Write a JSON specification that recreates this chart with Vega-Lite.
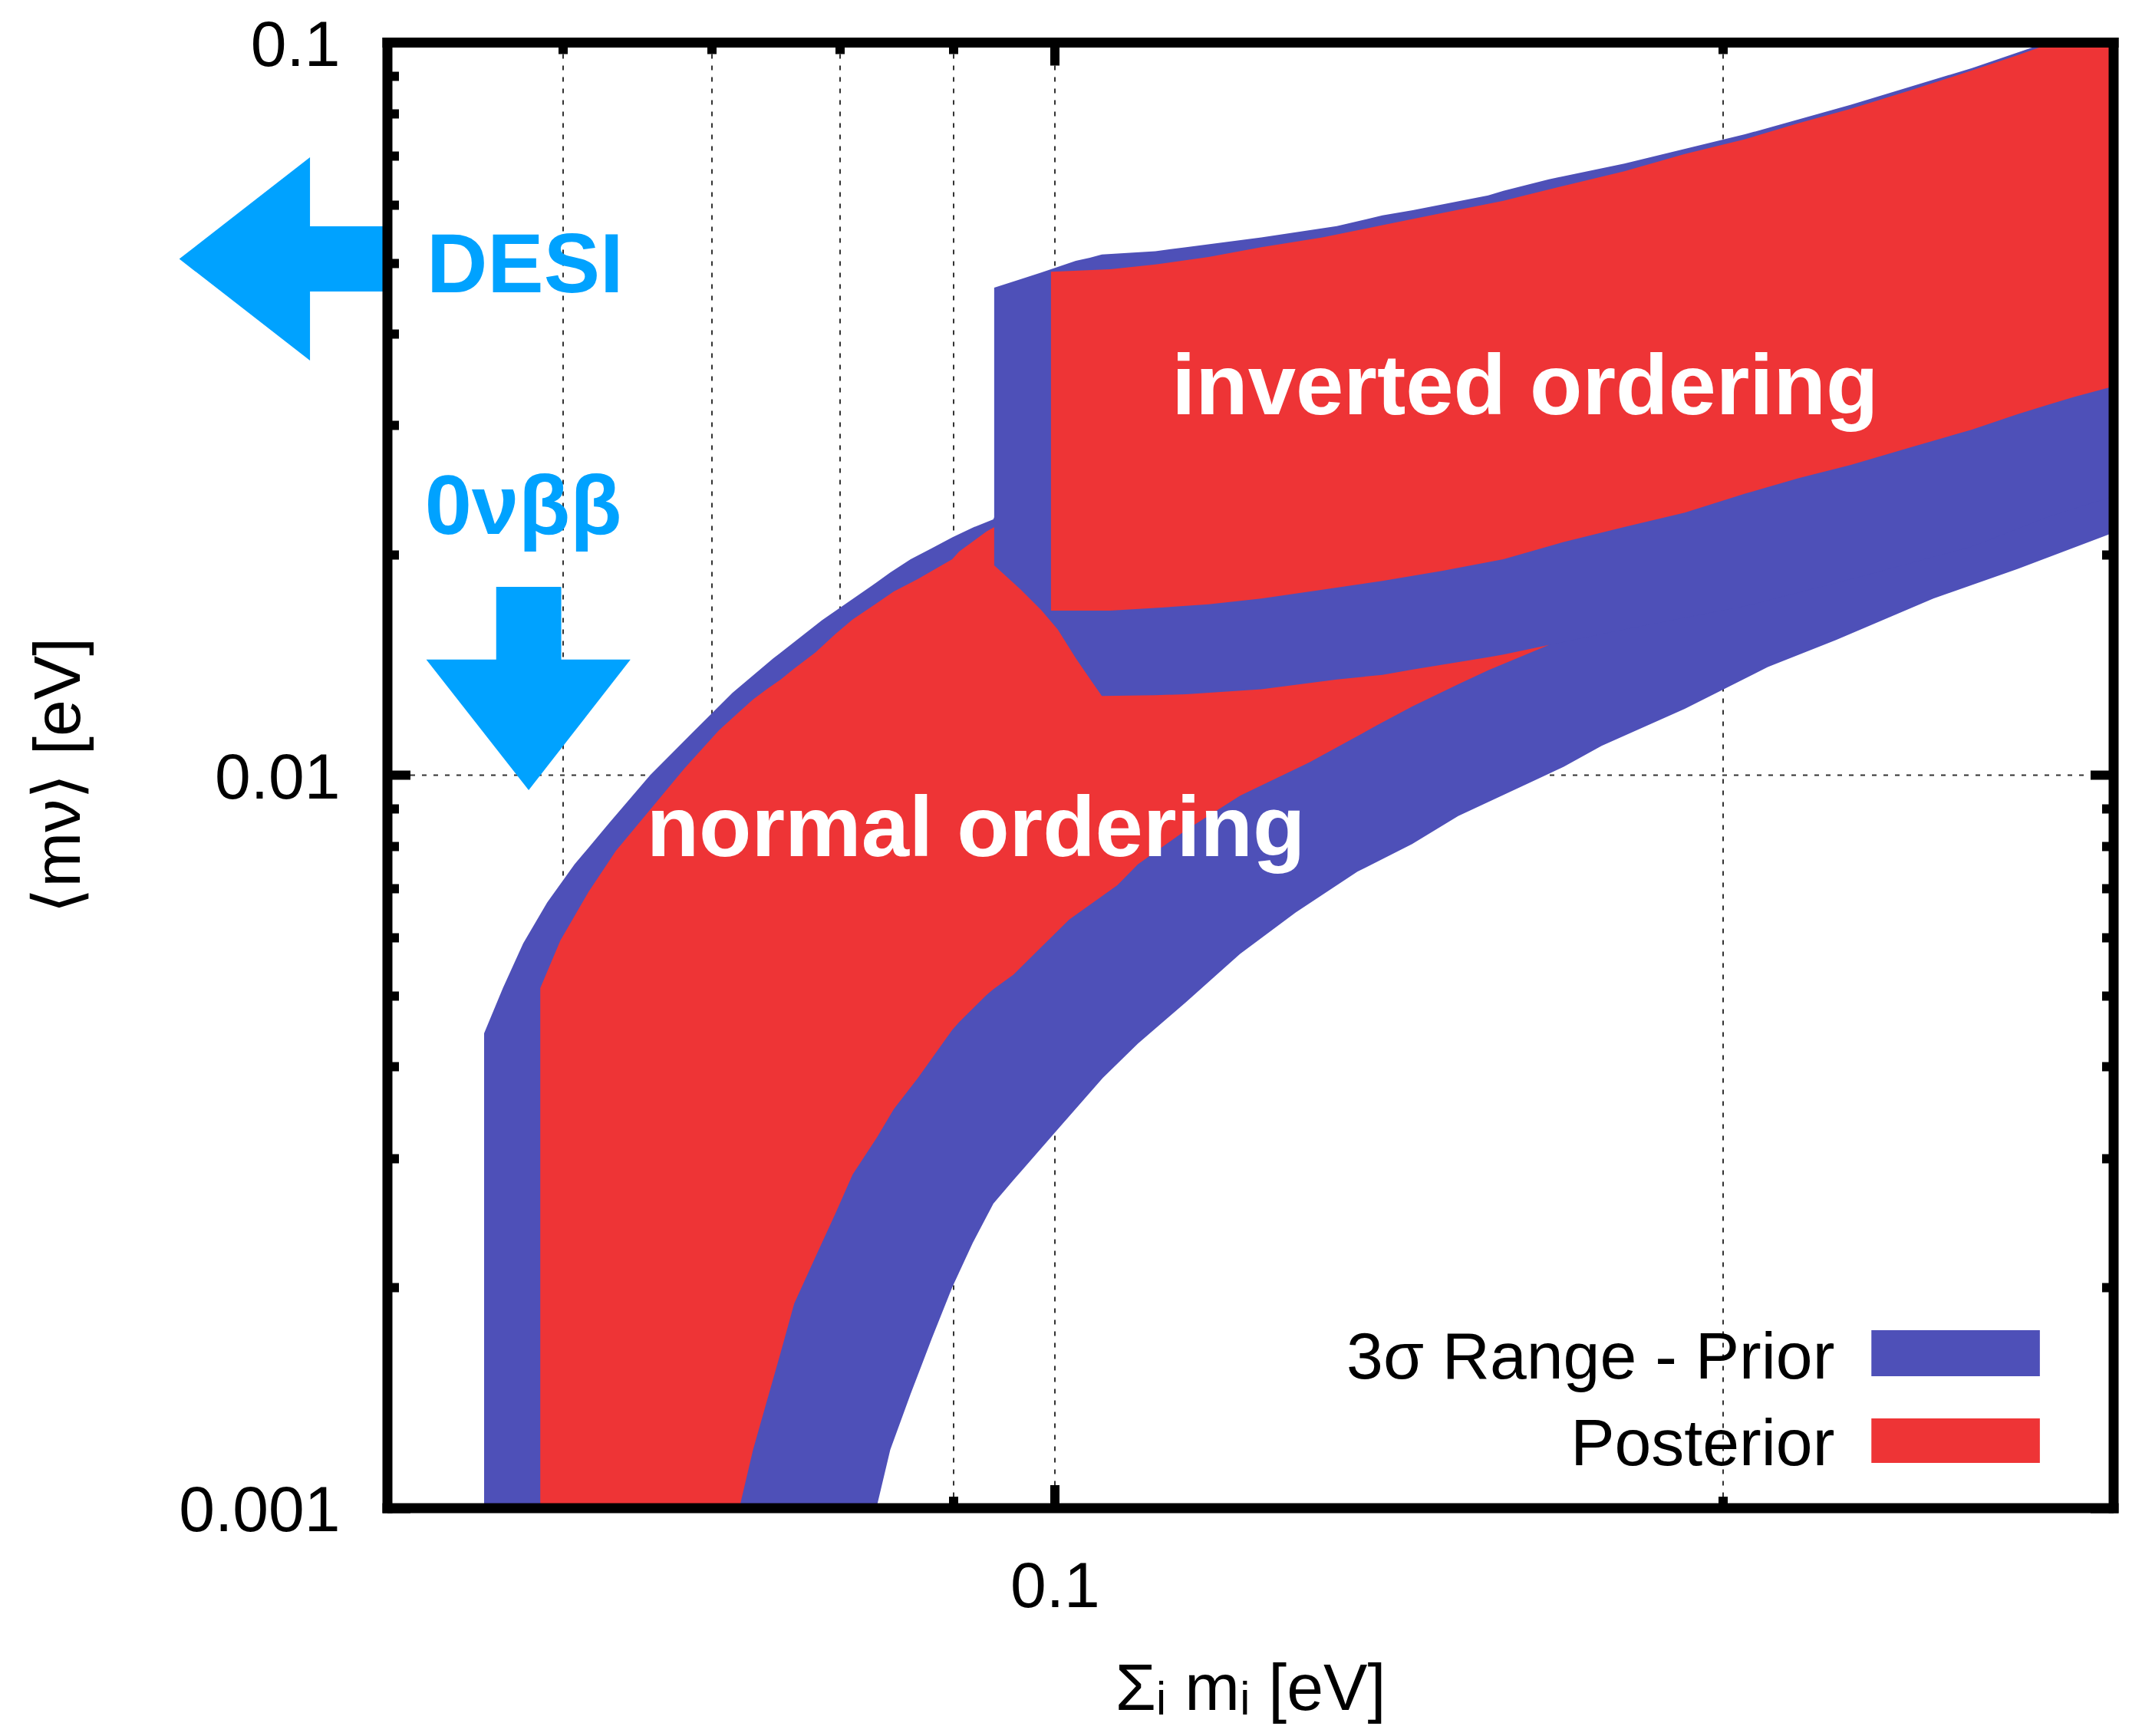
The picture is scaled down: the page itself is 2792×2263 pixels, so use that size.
{
  "$schema": "https://vega.github.io/schema/vega-lite/v6.json",
  "width": 2250,
  "height": 1910.5,
  "autosize": {"type": "none"},
  "padding": {"left": 504.5, "top": 55, "right": 38, "bottom": 297},
  "background": "white",
  "config": {
    "view": {"stroke": null},
    "axis": {
      "labelFont": "Liberation Sans Narrow, Liberation Sans, Arial",
      "titleFont": "Liberation Sans Narrow, Liberation Sans, Arial",
      "labelColor": "black",
      "titleColor": "black",
      "tickColor": "black",
      "domainColor": "black",
      "labelFontSize": 84,
      "titleFontSize": 86,
      "titleFontWeight": "normal",
      "tickCap": "butt",
      "gridColor": "#333333",
      "gridDash": [6, 9],
      "gridWidth": 2,
      "gridOpacity": 1,
      "labelFlush": false,
      "labelOverlap": false,
      "labelBound": false,
      "labelLimit": 1000,
      "titleLimit": 2000
    }
  },
  "datasets": {
    "noPrior": [
      {"x": 0.0553, "lo": 0.001, "hi": 0.00444},
      {"x": 0.05639, "lo": 0.001, "hi": 0.00512},
      {"x": 0.05759, "lo": 0.001, "hi": 0.00589},
      {"x": 0.05904, "lo": 0.001, "hi": 0.0067},
      {"x": 0.06074, "lo": 0.001, "hi": 0.00755},
      {"x": 0.06295, "lo": 0.001, "hi": 0.00859},
      {"x": 0.06571, "lo": 0.001, "hi": 0.01},
      {"x": 0.06857, "lo": 0.001, "hi": 0.01138},
      {"x": 0.07157, "lo": 0.001, "hi": 0.01295},
      {"x": 0.07467, "lo": 0.001, "hi": 0.01443},
      {"x": 0.07853, "lo": 0.001, "hi": 0.01626},
      {"x": 0.0831, "lo": 0.001, "hi": 0.01831},
      {"x": 0.0843, "lo": 0.0012, "hi": 0.0189},
      {"x": 0.0861, "lo": 0.00143, "hi": 0.0197},
      {"x": 0.088, "lo": 0.0017, "hi": 0.02039},
      {"x": 0.0899, "lo": 0.002, "hi": 0.0211},
      {"x": 0.09184, "lo": 0.0023, "hi": 0.02176},
      {"x": 0.09382, "lo": 0.0026, "hi": 0.02233},
      {"x": 0.0958, "lo": 0.0028, "hi": 0.026},
      {"x": 0.1, "lo": 0.00325, "hi": 0.03},
      {"x": 0.1051, "lo": 0.00386, "hi": 0.035},
      {"x": 0.109, "lo": 0.0043, "hi": 0.038},
      {"x": 0.1146, "lo": 0.0049, "hi": 0.042},
      {"x": 0.1212, "lo": 0.0057, "hi": 0.045},
      {"x": 0.1284, "lo": 0.00649, "hi": 0.048},
      {"x": 0.1369, "lo": 0.00738, "hi": 0.05},
      {"x": 0.1449, "lo": 0.00805, "hi": 0.053},
      {"x": 0.152, "lo": 0.00879, "hi": 0.055},
      {"x": 0.1696, "lo": 0.01026, "hi": 0.06},
      {"x": 0.1764, "lo": 0.01096, "hi": 0.062},
      {"x": 0.1923, "lo": 0.01231, "hi": 0.065},
      {"x": 0.2096, "lo": 0.01404, "hi": 0.07},
      {"x": 0.225, "lo": 0.01528, "hi": 0.075},
      {"x": 0.2489, "lo": 0.01741, "hi": 0.082},
      {"x": 0.2716, "lo": 0.0191, "hi": 0.088},
      {"x": 0.3, "lo": 0.0214, "hi": 0.095}
    ],
    "noPost": [
      {"x": 0.05862, "lo": 0.001, "hi": 0.00512},
      {"x": 0.05986, "lo": 0.001, "hi": 0.00595},
      {"x": 0.06162, "lo": 0.001, "hi": 0.00692},
      {"x": 0.06341, "lo": 0.001, "hi": 0.00788},
      {"x": 0.06571, "lo": 0.001, "hi": 0.00897},
      {"x": 0.06808, "lo": 0.001, "hi": 0.01021},
      {"x": 0.07055, "lo": 0.001, "hi": 0.0115},
      {"x": 0.07208, "lo": 0.001, "hi": 0.0122},
      {"x": 0.07311, "lo": 0.0012, "hi": 0.01268},
      {"x": 0.07417, "lo": 0.0014, "hi": 0.0131},
      {"x": 0.07524, "lo": 0.00163, "hi": 0.0135},
      {"x": 0.0763, "lo": 0.0019, "hi": 0.01397},
      {"x": 0.078, "lo": 0.0022, "hi": 0.0147},
      {"x": 0.07963, "lo": 0.00252, "hi": 0.01557},
      {"x": 0.08107, "lo": 0.00285, "hi": 0.0163},
      {"x": 0.08313, "lo": 0.0032, "hi": 0.01716},
      {"x": 0.08461, "lo": 0.0035, "hi": 0.0178},
      {"x": 0.08675, "lo": 0.00386, "hi": 0.01851},
      {"x": 0.0899, "lo": 0.00449, "hi": 0.0197},
      {"x": 0.09054, "lo": 0.0046, "hi": 0.02018},
      {"x": 0.09316, "lo": 0.00501, "hi": 0.0215},
      {"x": 0.09382, "lo": 0.0051, "hi": 0.02176},
      {"x": 0.0958, "lo": 0.00534, "hi": 0.0225},
      {"x": 0.0979, "lo": 0.0057, "hi": 0.023},
      {"x": 0.1015, "lo": 0.00635, "hi": 0.024},
      {"x": 0.1067, "lo": 0.00707, "hi": 0.025},
      {"x": 0.109, "lo": 0.00755, "hi": 0.025},
      {"x": 0.1146, "lo": 0.00841, "hi": 0.026},
      {"x": 0.1212, "lo": 0.00937, "hi": 0.027},
      {"x": 0.1302, "lo": 0.0104, "hi": 0.028},
      {"x": 0.1398, "lo": 0.0117, "hi": 0.029},
      {"x": 0.1449, "lo": 0.0124, "hi": 0.03},
      {"x": 0.152, "lo": 0.0133, "hi": 0.03},
      {"x": 0.1568, "lo": 0.0139, "hi": 0.03},
      {"x": 0.167, "lo": 0.01505, "hi": 0.03}
    ],
    "ioPrior": [
      {"x": 0.0939, "lo": 0.01932, "hi": 0.04625},
      {"x": 0.0965, "lo": 0.01792, "hi": 0.04749},
      {"x": 0.0986, "lo": 0.01679, "hi": 0.0485},
      {"x": 0.1003, "lo": 0.0158, "hi": 0.04936},
      {"x": 0.1022, "lo": 0.01443, "hi": 0.0503},
      {"x": 0.1037, "lo": 0.01353, "hi": 0.0508},
      {"x": 0.105, "lo": 0.01282, "hi": 0.05131},
      {"x": 0.111, "lo": 0.01285, "hi": 0.05186},
      {"x": 0.1146, "lo": 0.01289, "hi": 0.0525},
      {"x": 0.1239, "lo": 0.01309, "hi": 0.05416},
      {"x": 0.134, "lo": 0.0135, "hi": 0.0561},
      {"x": 0.1405, "lo": 0.0137, "hi": 0.05802},
      {"x": 0.145, "lo": 0.01393, "hi": 0.059},
      {"x": 0.1568, "lo": 0.01448, "hi": 0.0618},
      {"x": 0.1593, "lo": 0.0146, "hi": 0.0627},
      {"x": 0.167, "lo": 0.01505, "hi": 0.065},
      {"x": 0.1806, "lo": 0.0158, "hi": 0.06827},
      {"x": 0.2047, "lo": 0.017, "hi": 0.07486},
      {"x": 0.2285, "lo": 0.0185, "hi": 0.08215},
      {"x": 0.2591, "lo": 0.0205, "hi": 0.09221},
      {"x": 0.2803, "lo": 0.0225, "hi": 0.1},
      {"x": 0.3, "lo": 0.024, "hi": 0.1}
    ],
    "ioPost": [
      {"x": 0.0996, "lo": 0.01676, "hi": 0.04861},
      {"x": 0.1059, "lo": 0.01676, "hi": 0.04898},
      {"x": 0.111, "lo": 0.0169, "hi": 0.04974},
      {"x": 0.1173, "lo": 0.0171, "hi": 0.05091},
      {"x": 0.1239, "lo": 0.01741, "hi": 0.0525},
      {"x": 0.132, "lo": 0.0179, "hi": 0.05416},
      {"x": 0.1405, "lo": 0.0184, "hi": 0.05626},
      {"x": 0.1496, "lo": 0.019, "hi": 0.05848},
      {"x": 0.1593, "lo": 0.0197, "hi": 0.06077},
      {"x": 0.1696, "lo": 0.0208, "hi": 0.06368},
      {"x": 0.1806, "lo": 0.0218, "hi": 0.06668},
      {"x": 0.1923, "lo": 0.0228, "hi": 0.07039},
      {"x": 0.2047, "lo": 0.0242, "hi": 0.07371},
      {"x": 0.2163, "lo": 0.0254, "hi": 0.07749},
      {"x": 0.2285, "lo": 0.0265, "hi": 0.08113},
      {"x": 0.2432, "lo": 0.028, "hi": 0.08602},
      {"x": 0.2591, "lo": 0.0296, "hi": 0.0915},
      {"x": 0.2716, "lo": 0.03106, "hi": 0.096},
      {"x": 0.2803, "lo": 0.032, "hi": 0.0993},
      {"x": 0.288, "lo": 0.0328, "hi": 0.1},
      {"x": 0.3, "lo": 0.0339, "hi": 0.1}
    ],
    "bandLabels": [
      {"x": 0.16291, "y": 0.031067, "t": "inverted ordering"},
      {"x": 0.092133, "y": 0.0077503, "t": "normal ordering"}
    ],
    "blueLabels": [
      {"x": 0.05209, "y": 0.04557, "t": "DESI"},
      {"x": 0.0520, "y": 0.021329, "t": "0νββ"}
    ],
    "arrowLeft": [
      {"x": 0.0403, "lo": 0.050604, "hi": 0.050604},
      {"x": 0.046157, "lo": 0.036782, "hi": 0.069669}
    ],
    "arrowDown": [
      {"y": 0.014369, "x1": 0.052077, "x2": 0.064375},
      {"y": 0.0095351, "x1": 0.057918, "x2": 0.057918}
    ],
    "shafts": [
      {"x1": 0.0460, "x2": 0.05, "y1": 0.04568, "y2": 0.056076},
      {"x1": 0.055998, "x2": 0.05991, "y1": 0.0143, "y2": 0.018064}
    ],
    "legendBoxes": [
      {"x1": 0.2334, "x2": 0.278, "y1": 0.0015118, "y2": 0.0017473, "k": "prior"},
      {"x1": 0.2334, "x2": 0.278, "y1": 0.0011512, "y2": 0.0013243, "k": "post"}
    ],
    "legendText": [
      {"x": 0.22465, "y": 0.0015024, "t": "3σ Range - Prior"},
      {"x": 0.22465, "y": 0.0011429, "t": "Posterior"}
    ]
  },
  "resolve": {"axis": {"x": "independent", "y": "independent"}},
  "layer": [
    {
      "data": {"name": "noPrior"},
      "mark": {"type": "area", "color": "#4e50b8", "interpolate": "linear"},
      "encoding": {
        "x": {"field": "x", "type": "quantitative", "scale": {"type": "log", "domain": [0.05, 0.3], "nice": false},
          "axis": {"orient": "bottom", "values": [0.1], "labels": false, "ticks": true, "tickSize": -30, "tickWidth": 12, "domain": true, "domainWidth": 13, "domainCap": "square", "grid": false, "title": null, "zindex": 1}},
        "y": {"field": "lo", "type": "quantitative", "scale": {"type": "log", "domain": [0.001, 0.1], "nice": false},
          "axis": {"orient": "left", "values": [0.001, 0.01, 0.1], "labels": false, "ticks": true, "tickSize": -30, "tickWidth": 12, "domain": true, "domainWidth": 13, "domainCap": "square", "grid": false, "title": null, "zindex": 1}},
        "y2": {"field": "hi"}
      }
    },
    {
      "data": {"name": "noPost"},
      "mark": {"type": "area", "color": "#ee3436", "interpolate": "linear"},
      "encoding": {
        "x": {"field": "x", "type": "quantitative", "scale": {"type": "log", "domain": [0.05, 0.3], "nice": false},
          "axis": {"orient": "top", "values": [0.1], "labels": false, "ticks": true, "tickSize": -30, "tickWidth": 12, "domain": true, "domainWidth": 13, "domainCap": "square", "grid": false, "title": null, "zindex": 1}},
        "y": {"field": "lo", "type": "quantitative", "scale": {"type": "log", "domain": [0.001, 0.1], "nice": false},
          "axis": {"orient": "right", "values": [0.001, 0.01, 0.1], "labels": false, "ticks": true, "tickSize": -30, "tickWidth": 12, "domain": true, "domainWidth": 13, "domainCap": "square", "grid": false, "title": null, "zindex": 1}},
        "y2": {"field": "hi"}
      }
    },
    {
      "data": {"name": "ioPrior"},
      "mark": {"type": "area", "color": "#4e50b8", "interpolate": "linear"},
      "encoding": {
        "x": {"field": "x", "type": "quantitative", "scale": {"type": "log", "domain": [0.05, 0.3], "nice": false},
          "axis": {"orient": "bottom", "values": [0.06, 0.07, 0.08, 0.09, 0.1, 0.2], "labels": false, "ticks": true, "tickSize": -15, "tickWidth": 12, "domain": false, "grid": true, "title": null, "zindex": 0}},
        "y": {"field": "lo", "type": "quantitative", "scale": {"type": "log", "domain": [0.001, 0.1], "nice": false},
          "axis": {"orient": "left", "values": [0.002, 0.003, 0.004, 0.005, 0.006, 0.007, 0.008, 0.009, 0.02, 0.03, 0.04, 0.05, 0.06, 0.07, 0.08, 0.09], "labels": false, "ticks": true, "tickSize": -15, "tickWidth": 12, "domain": false, "grid": false, "title": null, "zindex": 0}},
        "y2": {"field": "hi"}
      }
    },
    {
      "data": {"name": "ioPost"},
      "mark": {"type": "area", "color": "#ee3436", "interpolate": "linear"},
      "encoding": {
        "x": {"field": "x", "type": "quantitative", "scale": {"type": "log", "domain": [0.05, 0.3], "nice": false},
          "axis": {"orient": "top", "values": [0.06, 0.07, 0.08, 0.09, 0.2], "labels": false, "ticks": true, "tickSize": -15, "tickWidth": 12, "domain": false, "grid": false, "title": null, "zindex": 0}},
        "y": {"field": "lo", "type": "quantitative", "scale": {"type": "log", "domain": [0.001, 0.1], "nice": false},
          "axis": {"orient": "right", "values": [0.002, 0.003, 0.004, 0.005, 0.006, 0.007, 0.008, 0.009, 0.02, 0.03, 0.04, 0.05, 0.06, 0.07, 0.08, 0.09], "labels": false, "ticks": true, "tickSize": -15, "tickWidth": 12, "domain": false, "grid": false, "title": null, "zindex": 0}},
        "y2": {"field": "hi"}
      }
    },
    {
      "data": {"name": "bandLabels"},
      "mark": {"type": "text", "font": "Liberation Sans, Arial", "fontWeight": "bold", "fontSize": 112, "color": "white", "align": "center", "baseline": "alphabetic"},
      "encoding": {
        "x": {"field": "x", "type": "quantitative", "scale": {"type": "log", "domain": [0.05, 0.3], "nice": false},
          "axis": {"orient": "bottom", "values": [0.1], "format": "~g", "ticks": false, "domain": false, "grid": false, "labels": true, "labelPadding": 128.5, "labelBaseline": "alphabetic", "labelAlign": "center", "title": "Σᵢ mᵢ [eV]", "titleY": 262.5, "titleBaseline": "alphabetic", "zindex": 0}},
        "y": {"field": "y", "type": "quantitative", "scale": {"type": "log", "domain": [0.001, 0.1], "nice": false},
          "axis": {"orient": "left", "values": [0.001, 0.01, 0.1], "format": "~g", "ticks": false, "domain": false, "grid": true, "labels": true, "labelPadding": 61.5, "labelBaseline": "alphabetic", "labelOffset": 30, "labelAlign": "right", "title": "⟨mν⟩ [eV]", "titleX": -401.5, "titleBaseline": "alphabetic", "titleAngle": -90, "zindex": 0}},
        "text": {"field": "t"}
      }
    },
    {
      "data": {"name": "arrowLeft"},
      "mark": {"type": "area", "color": "#00a2ff", "interpolate": "linear", "clip": false},
      "encoding": {
        "x": {"field": "x", "type": "quantitative", "axis": null},
        "y": {"field": "lo", "type": "quantitative", "axis": null},
        "y2": {"field": "hi"}
      }
    },
    {
      "data": {"name": "arrowDown"},
      "mark": {"type": "area", "orient": "horizontal", "color": "#00a2ff", "interpolate": "linear", "clip": false},
      "encoding": {
        "y": {"field": "y", "type": "quantitative", "axis": null},
        "x": {"field": "x1", "type": "quantitative", "axis": null},
        "x2": {"field": "x2"}
      }
    },
    {
      "data": {"name": "shafts"},
      "mark": {"type": "rect", "color": "#00a2ff", "clip": false},
      "encoding": {
        "x": {"field": "x1", "type": "quantitative", "axis": null},
        "x2": {"field": "x2"},
        "y": {"field": "y1", "type": "quantitative", "axis": null},
        "y2": {"field": "y2"}
      }
    },
    {
      "data": {"name": "blueLabels"},
      "mark": {"type": "text", "font": "Liberation Sans, Arial", "fontWeight": "bold", "fontSize": 110, "color": "#00a2ff", "align": "left", "baseline": "alphabetic"},
      "encoding": {
        "x": {"field": "x", "type": "quantitative", "axis": null},
        "y": {"field": "y", "type": "quantitative", "axis": null},
        "text": {"field": "t"}
      }
    },
    {
      "data": {"name": "legendBoxes"},
      "mark": {"type": "rect"},
      "encoding": {
        "x": {"field": "x1", "type": "quantitative", "axis": null},
        "x2": {"field": "x2"},
        "y": {"field": "y1", "type": "quantitative", "axis": null},
        "y2": {"field": "y2"},
        "color": {"field": "k", "type": "nominal", "scale": {"domain": ["prior", "post"], "range": ["#4e50b8", "#ee3436"]}, "legend": null}
      }
    },
    {
      "data": {"name": "legendText"},
      "mark": {"type": "text", "font": "Liberation Sans Narrow, Liberation Sans, Arial", "fontSize": 86, "color": "black", "align": "right", "baseline": "alphabetic"},
      "encoding": {
        "x": {"field": "x", "type": "quantitative", "axis": null},
        "y": {"field": "y", "type": "quantitative", "axis": null},
        "text": {"field": "t"}
      }
    }
  ]
}
